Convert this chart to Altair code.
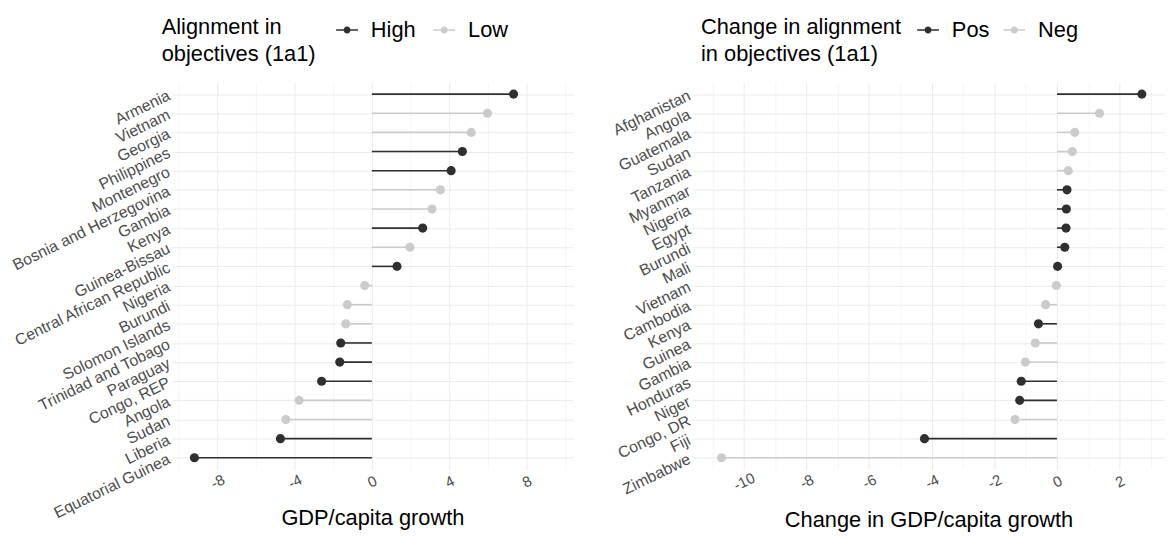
import altair as alt
import pandas as pd

# ---- Left panel data ----
left_countries = ["Armenia", "Vietnam", "Georgia", "Philippines", "Montenegro",
                  "Bosnia and Herzegovina", "Gambia", "Kenya", "Guinea-Bissau",
                  "Central African Republic", "Nigeria", "Burundi", "Solomon Islands",
                  "Trinidad and Tobago", "Paraguay", "Congo, REP", "Angola", "Sudan",
                  "Liberia", "Equatorial Guinea"]
left_values = [7.33, 5.98, 5.14, 4.68, 4.10, 3.54, 3.11, 2.63, 1.97, 1.30,
               -0.37, -1.27, -1.35, -1.61, -1.66, -2.60, -3.76, -4.45, -4.73, -9.18]
left_groups = ["High", "Low", "Low", "High", "High", "Low", "Low", "High", "Low", "High",
               "Low", "Low", "Low", "High", "High", "High", "Low", "Low", "High", "High"]
left_ticks = [-10, -8, -6, -4, -2, 0, 2, 4, 6, 8, 10]

# ---- Right panel data ----
right_countries = ["Afghanistan", "Angola", "Guatemala", "Sudan", "Tanzania", "Myanmar",
                   "Nigeria", "Egypt", "Burundi", "Mali", "Vietnam", "Cambodia", "Kenya",
                   "Guinea", "Gambia", "Honduras", "Niger", "Congo, DR", "Fiji", "Zimbabwe"]
right_values = [2.71, 1.36, 0.57, 0.49, 0.36, 0.32, 0.30, 0.29, 0.25, 0.02,
                -0.02, -0.36, -0.59, -0.69, -1.01, -1.14, -1.19, -1.34, -4.23, -10.71]
right_groups = ["Pos", "Neg", "Neg", "Neg", "Neg", "Pos", "Pos", "Pos", "Pos", "Pos",
                "Neg", "Neg", "Pos", "Neg", "Neg", "Pos", "Pos", "Neg", "Pos", "Neg"]
right_ticks = [-11, -10, -9, -8, -7, -6, -5, -4, -3, -2, -1, 0, 1, 2, 3]

DARK = "#2f2f2f"
LIGHT = "#cbcbcb"
FONT = "Liberation Sans"
SYMBOL = ("M-1,-0.07H1V0.07H-1Z "
          "M0.32,0A0.32,0.32 0 1,1 -0.32,0A0.32,0.32 0 1,1 0.32,0Z")


def panel(countries, values, groups, gdomain, xdomain, ticks, major_mod,
          width, xtitle, ltitle, legend_x, title_pad, col_pad):
    df = pd.DataFrame({"country": countries, "value": values,
                       "group": groups, "zero": [0.0] * len(values)})
    xaxis = alt.Axis(
        values=ticks,
        labelExpr=f"datum.value % {major_mod} === 0 ? '' + datum.value : ''",
        grid=True, gridColor="#ebebeb",
        gridWidth={"condition": {"test": f"datum.value % {major_mod} === 0", "value": 1.0},
                   "value": 0.5},
        labelAngle=334, labelAlign="center", labelBaseline="middle",
        labelPadding=12, labelFontSize=15, labelColor="#4d4d4d",
        title=xtitle, titleFontSize=22, titleFontWeight="normal", titleColor="#000000",
        titlePadding=17, domain=False, ticks=False,
    )
    xscale = alt.Scale(domain=xdomain, nice=False, zero=False)
    yenc = alt.Y("country:N", sort=countries,
                 scale=alt.Scale(type="point", padding=0.6),
                 axis=alt.Axis(title=None, labelAngle=334, labelAlign="right",
                               labelBaseline="middle", labelFontSize=16,
                               labelColor="#4d4d4d", labelPadding=3,
                               grid=True, gridColor="#ebebeb", gridWidth=1,
                               domain=False, ticks=False))
    cscale = alt.Scale(domain=gdomain, range=[DARK, LIGHT])
    legend = alt.Legend(
        title=ltitle, orient="none", legendX=legend_x, legendY=-73, padding=9,
        direction="horizontal", titleOrient="left", titleFontSize=22,
        titleFontWeight="normal", titleColor="#000000", titleLineHeight=27,
        titleBaseline="top", titlePadding=title_pad, titleLimit=500,
        labelFontSize=22, labelColor="#000000", labelOffset=13,
        symbolType=SYMBOL, symbolSize=484, symbolStrokeWidth=0,
        symbolOpacity=1, columnPadding=col_pad,
    )
    color = alt.Color("group:N", scale=cscale, legend=legend)
    base = alt.Chart(df).encode(y=yenc)
    rule = base.mark_rule(strokeWidth=1.6).encode(
        x=alt.X("zero:Q", scale=xscale, axis=xaxis),
        x2="value:Q",
        color=color,
    )
    pts = base.mark_circle(size=85, opacity=1).encode(
        x=alt.X("value:Q", scale=xscale, axis=xaxis),
        color=color,
    )
    return alt.layer(rule, pts).properties(width=width, height=390)


left = panel(left_countries, left_values, left_groups, ["High", "Low"],
             [-10.36, 10.41], left_ticks, 4, 405, "GDP/capita growth",
             ["Alignment in", "objectives (1a1)"], -19, 20, 17)
right = panel(right_countries, right_values, right_groups, ["Pos", "Neg"],
              [-11.65, 3.45], right_ticks, 2, 477, "Change in GDP/capita growth",
              ["Change in alignment", "in objectives (1a1)"], 0, 16, 14)

chart = alt.hconcat(left, right, spacing=37).resolve_scale(color="independent").configure(
    font=FONT, background="#ffffff", padding={"left": 1, "top": 0, "right": 0, "bottom": 0}
).configure_view(stroke=None)

chart.save("out.html", embed_options={"renderer": "svg", "actions": False})
